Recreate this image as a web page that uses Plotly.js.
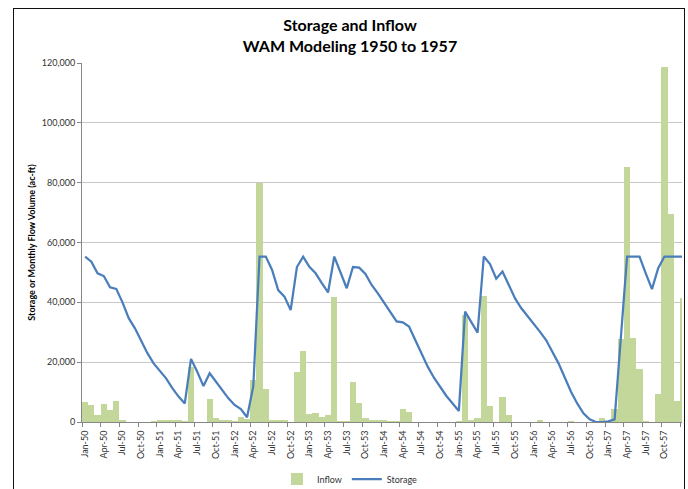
<!DOCTYPE html>
<html>
<head>
<meta charset="utf-8">
<script src="https://cdn.plot.ly/plotly-3.0.1.min.js"></script>
<style>
  html, body { margin: 0; padding: 0; background: #fff; }
  #wrap { position: relative; width: 688px; height: 489px; overflow: hidden; }
  #chart { position: absolute; left: 0; top: 0; width: 688px; height: 489px; }
  #frame { position: absolute; left: 13px; top: 8px; width: 670px; height: 520px;
           border: 1.5px solid #111; pointer-events: none; }
</style>
</head>
<body>
<div id="wrap">
  <div id="chart"></div>
  <div id="frame"></div>
</div>
<script>
// Monthly categories Jan-1950 .. Jan-1958 (last one only partly visible at the right edge)
const monthNames = ['Jan','Feb','Mar','Apr','May','Jun','Jul','Aug','Sep','Oct','Nov','Dec'];
const years = [50, 51, 52, 53, 54, 55, 56, 57, 58];

// Tick labels every 3 months
const tickLabels = [
  'Jan-50','Apr-50','Jul-50','Oct-50','Jan-51','Apr-51','Jul-51','Oct-51',
  'Jan-52','Apr-52','Jul-52','Oct-52','Jan-53','Apr-53','Jul-53','Oct-53',
  'Jan-54','Apr-54','Jul-54','Oct-54','Jan-55','Apr-55','Jul-55','Oct-55',
  'Jan-56','Apr-56','Jul-56','Oct-56','Jan-57','Apr-57','Jul-57','Oct-57'
];

// Inflow (ac-ft), monthly
const inflow = [
  6600, 5800, 2300, 6100, 4100, 7000, 600, 0, 0, 0, 0, 300,            // 1950
  700, 700, 700, 700, 300, 18300, 0, 0, 7700, 1400, 700, 700,          // 1951
  400, 1800, 1100, 14000, 80000, 10900, 600, 600, 600, 0, 16800, 23900,// 1952
  2600, 3000, 1800, 2300, 41800, 300, 300, 13400, 6400, 1300, 800, 800,// 1953
  600, 500, 500, 4500, 3500, 0, 0, 0, 0, 0, 0, 0,                      // 1954
  200, 35800, 700, 1200, 42200, 5400, 0, 8200, 2300, 0, 0, 0,          // 1955
  0, 600, 0, 0, 0, 0, 300, 0, 0, 0, 0, 1200,                           // 1956
  0, 4200, 27800, 85400, 28100, 17700, 400, 0, 9400, 118600, 69600, 7100, // 1957
  41600                                                                 // Jan-58
];

// Storage (ac-ft), end of month
const storage = [
  55300, 53600, 49700, 48800, 45000, 44500, 40000, 34700, 31300, 26900, 23000, 19600, // 1950
  17200, 14600, 11300, 8500, 6200, 21100, 16800, 12000, 16300, 13500, 10700, 7900,    // 1951
  5700, 4300, 1600, 12000, 55300, 55300, 50900, 44100, 41900, 37400, 51800, 55300,    // 1952
  51900, 49700, 46400, 43300, 55300, 50300, 44700, 51800, 51600, 49500, 45800, 43000, // 1953
  40000, 36900, 33600, 33300, 31900, 27400, 23000, 18500, 14800, 11600, 8700, 6200,   // 1954
  3700, 36900, 33600, 29900, 55300, 52800, 47900, 50300, 45900, 41400, 38100, 35500,  // 1955
  33000, 30200, 27400, 23500, 19600, 14900, 10100, 6200, 2900, 900, 0, 0,             // 1956
  200, 900, 28100, 55300, 55300, 55300, 49700, 44400, 51400, 55300, 55300, 55300,     // 1957
  55300                                                                                // Jan-58
];

const months = [];
years.forEach(y => monthNames.forEach(m => months.push(m + '-' + y)));
const cats = months.slice(0, inflow.length);
const idx = cats.map((_, i) => i);

const tickPos = tickLabels.map(l => cats.indexOf(l));
const boundaries = tickPos.map(p => p - 0.5).concat([tickPos[tickPos.length - 1] + 2.5]);

const FONT = 'Lato, "Open Sans", "Liberation Sans", sans-serif';

const traces = [
  {
    type: 'bar', name: 'Inflow', x: idx, y: inflow,
    marker: { color: 'rgb(196,215,155)', line: { width: 0 } },
    width: 1, hoverinfo: 'skip'
  },
  {
    type: 'scatter', mode: 'lines', name: 'Storage', x: idx, y: storage,
    line: { color: '#4a7ebb', width: 2.25 }, hoverinfo: 'skip'
  },
  {
    type: 'scatter', mode: 'none', x: idx, y: storage, xaxis: 'x2',
    showlegend: false, hoverinfo: 'skip'
  }
];

const xr = [-0.5, 95.82];

const layout = {
  width: 688, height: 489,
  margin: { l: 82, r: 6, t: 63, b: 67, autoexpand: false },
  paper_bgcolor: '#fff', plot_bgcolor: '#fff',
  font: { family: FONT, size: 9, color: '#333' },
  bargap: 0,
  showlegend: true,
  title: {
    text: 'Storage and Inflow<br>WAM Modeling 1950 to 1957',
    font: { family: FONT, size: 16, color: '#000', weight: 'bold' },
    x: 350 / 688, xref: 'container', xanchor: 'center',
    y: 1 - 31 / 489, yref: 'container', yanchor: 'middle'
  },
  xaxis: {
    range: xr, tickmode: 'array', tickvals: tickPos, ticktext: tickLabels,
    tickangle: -90, ticks: '', showgrid: false, zeroline: false,
    showline: true, linecolor: '#868686', linewidth: 1,
    ticklabelstandoff: 4,
    tickfont: { family: FONT, size: 9, color: '#333' }
  },
  xaxis2: {
    overlaying: 'x', anchor: 'y', side: 'bottom', range: xr,
    tickmode: 'array', tickvals: boundaries, ticks: 'outside', ticklen: 4,
    tickcolor: '#868686', showticklabels: false, showgrid: false, zeroline: false,
    showline: false
  },
  yaxis: {
    range: [0, 120000], tickmode: 'linear', tick0: 0, dtick: 20000,
    tickformat: ',d', showgrid: true, gridcolor: '#c8c8c8', gridwidth: 1,
    zeroline: false, showline: true, linecolor: '#868686', linewidth: 1,
    ticks: 'outside', ticklen: 4, tickcolor: '#868686',
    tickfont: { family: FONT, size: 9, color: '#333' },
    title: {
      text: 'Storage or Monthly Flow Volume (ac-ft)',
      font: { family: FONT, size: 9, color: '#000', weight: 'bold' },
      standoff: 4
    }
  },
  legend: {
    orientation: 'h', xref: 'container', x: 350 / 688, xanchor: 'center',
    yref: 'container', y: 10 / 489, yanchor: 'middle',
    font: { family: FONT, size: 9, color: '#333' },
    itemwidth: 30, bgcolor: 'rgba(0,0,0,0)'
  }
};

Plotly.newPlot('chart', traces, layout, { staticPlot: true, displayModeBar: false });
</script>
</body>
</html>
